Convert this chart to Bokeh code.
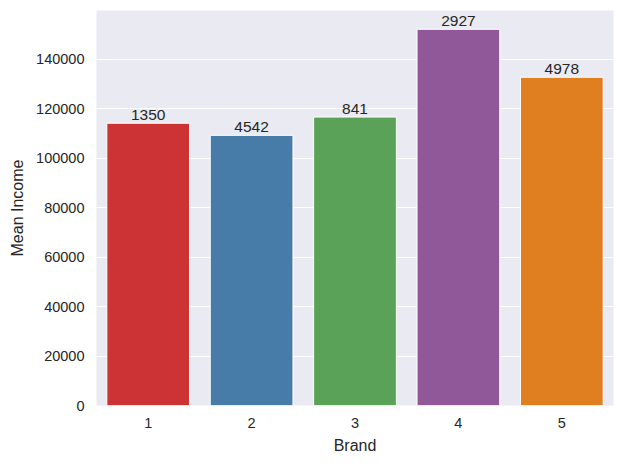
from bokeh.plotting import figure
from bokeh.models import ColumnDataSource, FixedTicker, BasicTickFormatter, Range1d
from bokeh.core.properties import value
from bokeh.embed import file_html
from bokeh.resources import INLINE

brands = [1, 2, 3, 4, 5]
mean_income = [114200, 109300, 116700, 152200, 132800]
bar_labels = ["1350", "4542", "841", "2927", "4978"]
colors = ["#cb3335", "#477ca8", "#59a257", "#905899", "#df7f20"]
y_ticks = [0, 20000, 40000, 60000, 80000, 100000, 120000, 140000]

FONT = "Liberation Sans"
TXT = "#262626"

src = ColumnDataSource(dict(x=brands, top=mean_income, lab=bar_labels, color=colors))

p = figure(width=623, height=463, output_backend="svg", toolbar_location=None,
           x_range=Range1d(0.5, 5.5), y_range=Range1d(0, max(mean_income) * 1.05),
           min_border_left=96, min_border_right=10, min_border_top=10, min_border_bottom=58)

p.background_fill_color = "#eaeaf2"
p.border_fill_color = "white"
p.outline_line_color = None

p.vbar(x="x", top="top", width=0.8, bottom=0, fill_color="color", line_color="white",
       line_width=1, source=src)
p.text(x="x", y="top", text="lab", source=src, text_align="center", text_baseline="bottom",
       y_offset=-3, text_font=value(FONT), text_font_size="15.5px", text_color=TXT)

for ax in (p.xaxis[0], p.yaxis[0]):
    ax.axis_line_color = None
    ax.major_tick_line_color = None
    ax.minor_tick_line_color = None
    ax.major_tick_out = 0
    ax.major_tick_in = 0
    ax.minor_tick_out = 0
    ax.major_label_text_font = FONT
    ax.major_label_text_font_size = "14.5px"
    ax.major_label_text_color = TXT
    ax.axis_label_text_font = FONT
    ax.axis_label_text_font_size = "16px"
    ax.axis_label_text_font_style = "normal"
    ax.axis_label_text_color = TXT

p.xaxis.ticker = FixedTicker(ticks=brands)
p.xaxis.axis_label = "Brand"
p.xaxis.major_label_standoff = 12
p.xaxis.axis_label_standoff = 6

p.yaxis.ticker = FixedTicker(ticks=y_ticks)
p.yaxis.formatter = BasicTickFormatter(use_scientific=False)
p.yaxis.axis_label = "Mean Income"
p.yaxis.major_label_standoff = 12
p.yaxis.axis_label_standoff = 7

p.xgrid.grid_line_color = None
p.ygrid.grid_line_color = "white"
p.ygrid.grid_line_width = 1

open("out.html", "w").write(file_html(p, INLINE))
